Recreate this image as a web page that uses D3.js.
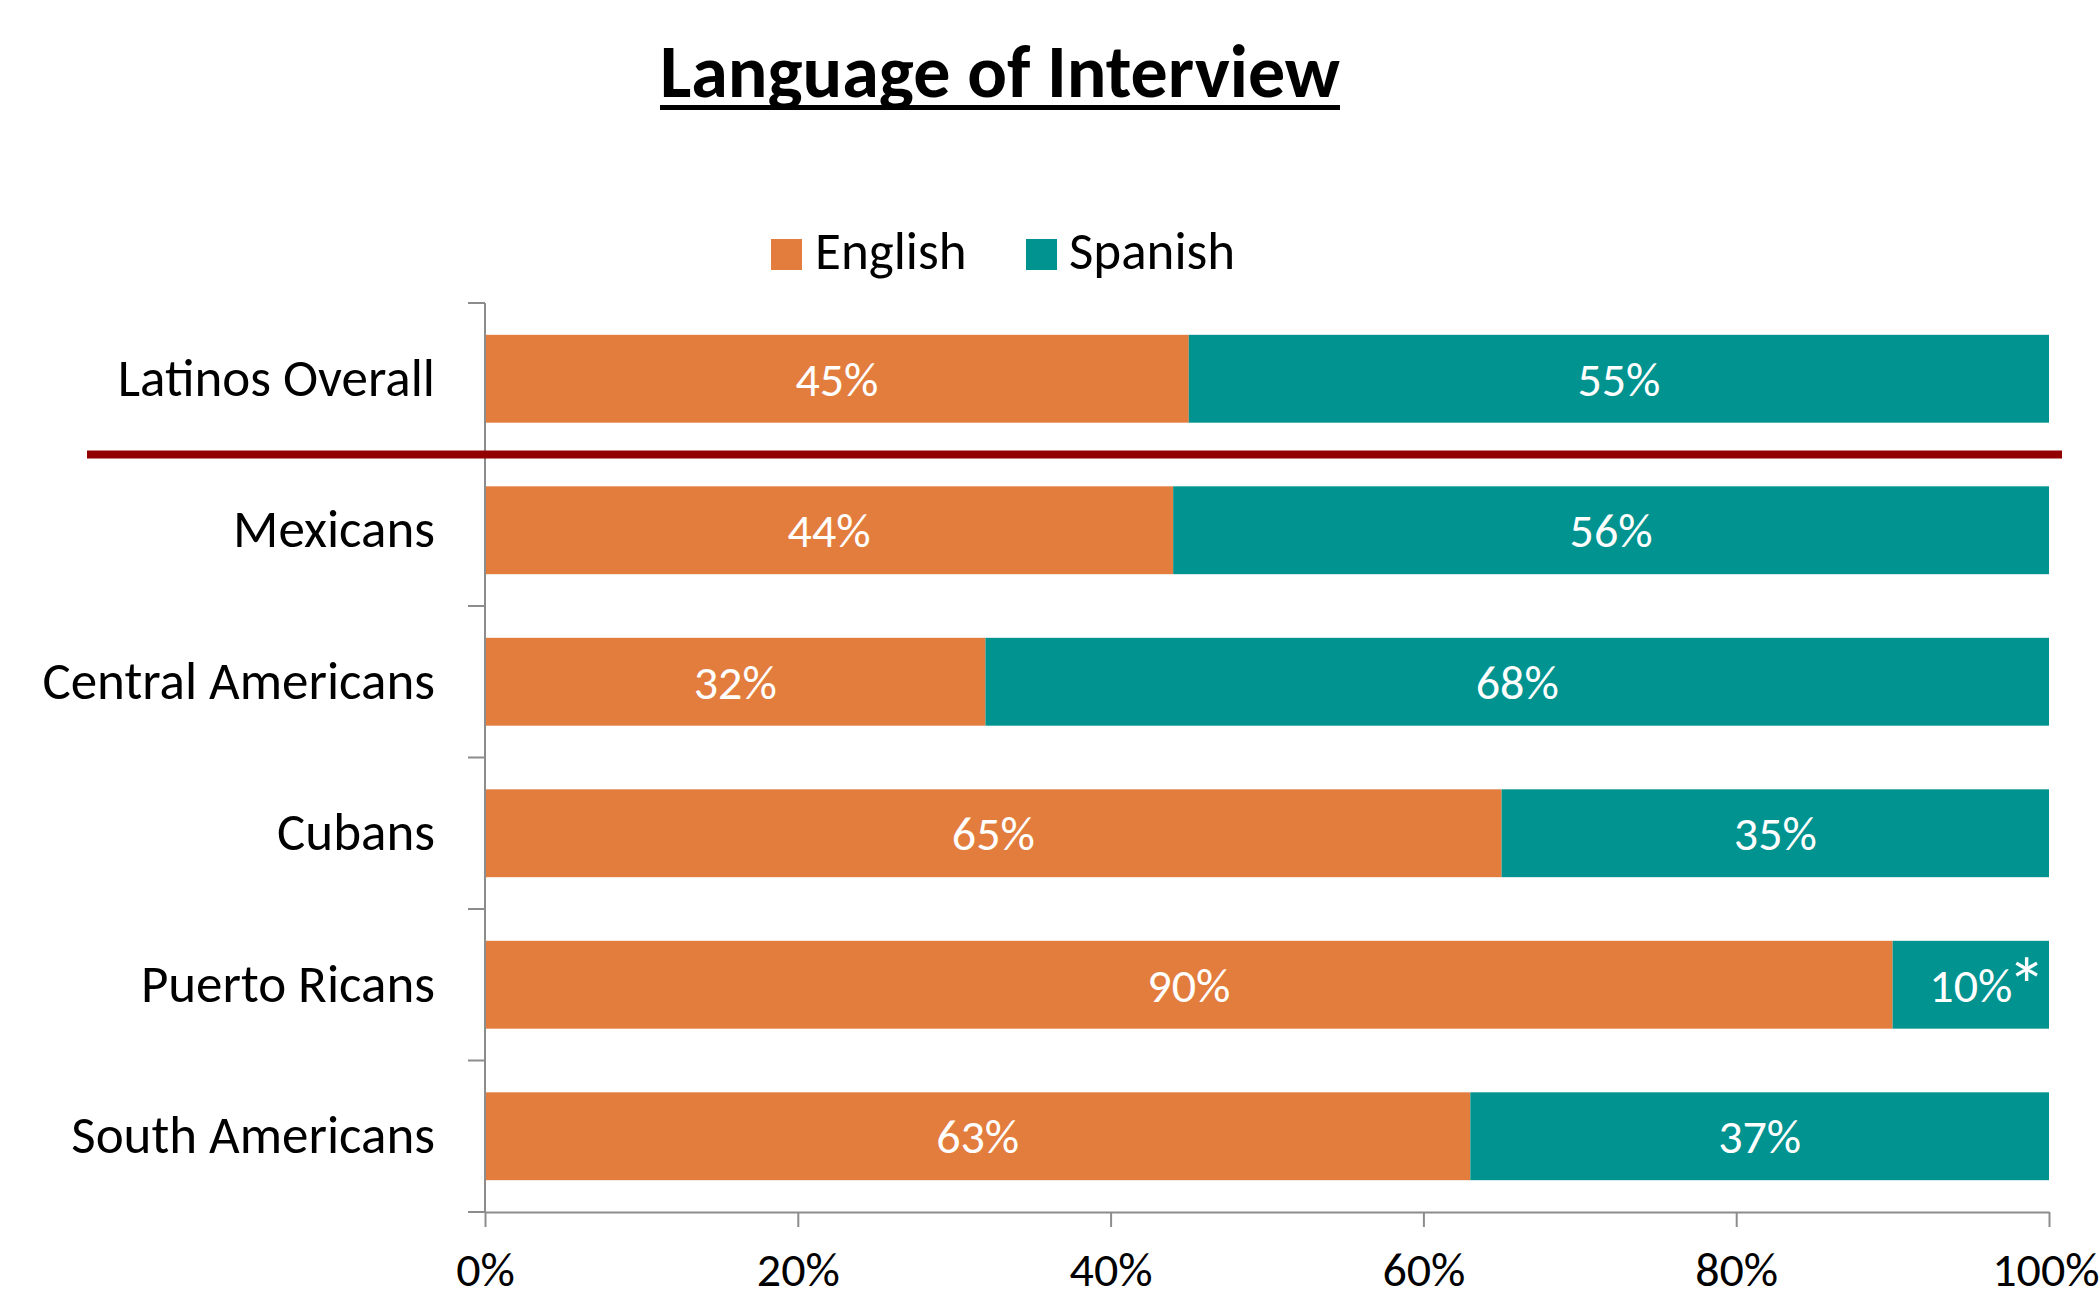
<!DOCTYPE html>
<html>
<head>
<meta charset="utf-8">
<title>Language of Interview</title>
<script src="https://cdn.jsdelivr.net/npm/d3@7"></script>
<style>
  html, body { margin: 0; padding: 0; background: #ffffff; }
  svg { display: block; }
  text { font-family: Carlito, Calibri, Lato, "Open Sans", sans-serif; }
</style>
</head>
<body>
<svg id="chart" width="2100" height="1299"></svg>
<script>
// Share of interviews conducted in each language, by origin group
const categories = ["Latinos Overall", "Mexicans", "Central Americans", "Cubans", "Puerto Ricans", "South Americans"];
const english = [45, 44, 32, 65, 90, 63];
const spanish = [55, 56, 68, 35, 10, 37];
const spanishNote = ["", "", "", "", "*", ""];
const seriesNames = ["English", "Spanish"];
const tickValues = [0, 20, 40, 60, 80, 100];
const tickLabels = ["0%", "20%", "40%", "60%", "80%", "100%"];
const titleText = "Language of Interview";

const colors = { English: "#E37D3E", Spanish: "#00938F" };
const axisColor = "#8C8C8C";
const dividerColor = "#920000";

const svg = d3.select("#chart");
const W = +svg.attr("width");

const x = d3.scaleLinear().domain([0, 100]).range([485, 2049]);
const y = d3.scaleBand()
  .domain(categories)
  .range([303, 1212])
  .paddingInner(0.42)
  .paddingOuter(0.21);

// Title, underlined
const title = svg.append("text")
  .attr("x", 1000)
  .attr("y", 97)
  .attr("text-anchor", "middle")
  .attr("font-size", 74)
  .attr("font-weight", "bold")
  .attr("fill", "#000")
  .text(titleText);
const tb = title.node().getBBox();
svg.append("line")
  .attr("x1", tb.x).attr("x2", tb.x + tb.width)
  .attr("y1", 107.5).attr("y2", 107.5)
  .attr("stroke", "#000").attr("stroke-width", 5);

// Legend
const legendItems = [
  { name: seriesNames[0], sx: 771, tx: 815 },
  { name: seriesNames[1], sx: 1026, tx: 1069 }
];
const legend = svg.append("g");
legendItems.forEach(d => {
  legend.append("rect")
    .attr("x", d.sx).attr("y", 239)
    .attr("width", 31).attr("height", 31)
    .attr("fill", colors[d.name]);
  legend.append("text")
    .attr("x", d.tx).attr("y", 269)
    .attr("font-size", 53)
    .attr("fill", "#000")
    .text(d.name);
});

// Stacked rows
const rows = categories.map((c, i) => ({
  cat: c,
  segs: [
    { name: "English", x0: 0, x1: english[i], v: english[i], note: "" },
    { name: "Spanish", x0: english[i], x1: english[i] + spanish[i], v: spanish[i], note: spanishNote[i] }
  ]
}));

const rowG = svg.append("g").selectAll("g").data(rows).join("g");

rowG.selectAll("rect")
  .data(d => d.segs.map(s => ({ ...s, cat: d.cat })))
  .join("rect")
  .attr("x", d => x(d.x0))
  .attr("y", d => y(d.cat))
  .attr("width", d => x(d.x1) - x(d.x0))
  .attr("height", y.bandwidth())
  .attr("fill", d => colors[d.name]);

rowG.selectAll("text.val")
  .data(d => d.segs.map(s => ({ ...s, cat: d.cat })))
  .join("text")
  .attr("class", "val")
  .attr("x", d => (x(d.x0) + x(d.x1)) / 2)
  .attr("y", d => y(d.cat) + y.bandwidth() / 2 + 17)
  .attr("text-anchor", "middle")
  .attr("font-size", 48)
  .attr("fill", "#fff")
  .text(d => d.v + "%");

// Footnote marker on the small segment
rowG.selectAll("text.note")
  .data(d => d.segs.filter(s => s.note).map(s => ({ ...s, cat: d.cat })))
  .join("text")
  .attr("class", "note")
  .attr("x", d => x(d.x1) - 3)
  .attr("y", d => y(d.cat) + 72)
  .attr("text-anchor", "end")
  .attr("font-size", 78)
  .attr("fill", "#fff")
  .text(d => d.note);

// Category labels
svg.append("g").selectAll("text")
  .data(categories)
  .join("text")
  .attr("x", 435)
  .attr("y", d => y(d) + y.bandwidth() / 2 + 17)
  .attr("text-anchor", "end")
  .attr("font-size", 53)
  .attr("fill", "#000")
  .text(d => d);

// Vertical category axis with ticks at row boundaries
const step = y.step();
const bounds = d3.range(categories.length + 1).map(i => y.range()[0] + i * step);
const axisG = svg.append("g").attr("stroke", axisColor).attr("stroke-width", 2);
axisG.append("line")
  .attr("x1", x(0)).attr("x2", x(0))
  .attr("y1", y.range()[0]).attr("y2", y.range()[1]);
axisG.selectAll("line.yt")
  .data(bounds)
  .join("line")
  .attr("class", "yt")
  .attr("x1", x(0) - 17).attr("x2", x(0))
  .attr("y1", d => d).attr("y2", d => d);

// Horizontal percentage axis
const xAxis = d3.axisBottom(x)
  .tickValues(tickValues)
  .tickFormat((d, i) => tickLabels[i])
  .tickSize(15)
  .tickPadding(25)
  .tickSizeOuter(0);
const xg = svg.append("g")
  .attr("transform", `translate(0,${y.range()[1]})`)
  .call(xAxis);
xg.select(".domain").attr("stroke", axisColor).attr("stroke-width", 2);
xg.selectAll(".tick line").attr("stroke", axisColor).attr("stroke-width", 2);
xg.selectAll(".tick text")
  .attr("font-size", 48)
  .attr("font-family", "Carlito, Calibri, Lato, 'Open Sans', sans-serif")
  .attr("fill", "#000");

// Keep the right-most tick label inside the canvas
xg.selectAll(".tick text").each(function (d) {
  const b = this.getBBox();
  const right = x(d) + b.x + b.width;
  if (right > W - 1) d3.select(this).attr("dx", (W - 1 - right).toFixed(1));
});

// Divider between the overall figure and the origin groups
svg.append("line")
  .attr("x1", 87).attr("x2", 2062)
  .attr("y1", bounds[1]).attr("y2", bounds[1])
  .attr("stroke", dividerColor)
  .attr("stroke-width", 8);
</script>
</body>
</html>
